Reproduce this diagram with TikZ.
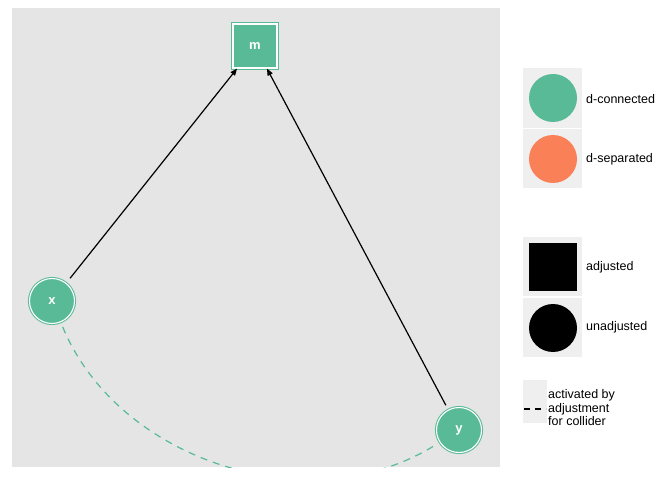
\documentclass[tikz,border=0pt]{standalone}
\usepackage{fontspec}
\setmainfont{Liberation Sans}
\usetikzlibrary{arrows.meta}
\definecolor{dagteal}{RGB}{88,186,150}
\definecolor{dagorange}{RGB}{250,128,88}
\definecolor{panelgray}{RGB}{229,229,229}
\definecolor{keygray}{RGB}{239,239,239}
\tikzset{
  dagnode/.style={fill=dagteal,draw=dagteal,double=white,double distance=1.1pt,line width=1pt,
    text=white,font=\fontsize{13}{15}\selectfont\bfseries,inner sep=0pt},
  dagcirc/.style={dagnode,circle,minimum size=45pt},
  dagsq/.style={dagnode,rectangle,minimum size=44pt},
  dagedge/.style={line width=1.2pt,-{Triangle[length=7pt,width=5.5pt]}},
  collider/.style={dagteal,line width=1.2pt,dash pattern=on 7pt off 6pt},
  keybox/.style={fill=keygray},
  keytext/.style={anchor=west,inner sep=0pt,font=\fontsize{12.5}{13.5}\selectfont}
}
\begin{document}
\begin{tikzpicture}[x=1pt,y=1pt]
    \useasboundingbox (0,0) rectangle (672,480);
    \fill[panelgray] (12,13) rectangle (500,472);
    % dag
    \node[dagsq] (m) at (255,434) {m};
    \node[dagcirc] (x) at (52,179) {x};
    \node[dagcirc] (y) at (459,50) {y};
    \draw[dagedge,shorten <=6pt] (x) -- (m);
    \draw[dagedge,shorten <=5pt] (y) -- (m);
    \begin{scope}
        \clip (12,13) rectangle (500,472);
        \draw[collider,shorten <=5pt,shorten >=4pt] (x) to[bend right=50,looseness=0.97] (y);
    \end{scope}
    % legend
    \fill[keybox] (523,352) rectangle (582,412);
    \fill[keybox] (523,292) rectangle (582,351);
    \node[circle,fill=dagteal,minimum size=48pt] (keyconn) at (553,382) {};
    \node[circle,fill=dagorange,minimum size=48pt] (keysep) at (553,321) {};
    \node[keytext] at (586,381) {d-connected};
    \node[keytext] at (586,321) {d-separated};
    \fill[keybox] (523,184) rectangle (582,243);
    \fill[keybox] (523,123) rectangle (582,182);
    \node[rectangle,fill=black,minimum size=48pt] (keyadj) at (553,213) {};
    \node[circle,fill=black,minimum size=48pt] (keyunadj) at (553,152) {};
    \node[keytext] at (586,213) {adjusted};
    \node[keytext] at (586,153) {unadjusted};
    \fill[keybox] (523,57) rectangle (547,100);
    \draw[line width=1.2pt,dash pattern=on 6pt off 5pt] (524,71) -- (546,71);
    \node[keytext,align=left] at (548,72) {activated by\\adjustment\\for collider};
\end{tikzpicture}
\end{document}
